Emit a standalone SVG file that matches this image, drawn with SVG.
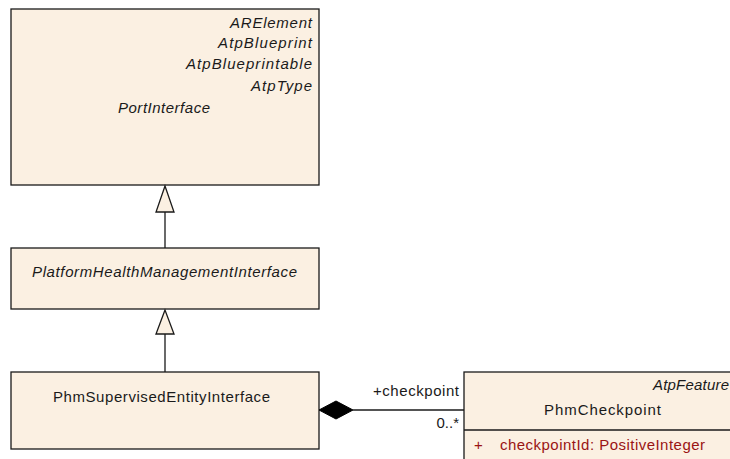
<svg xmlns="http://www.w3.org/2000/svg" width="730" height="459" viewBox="0 0 730 459">
<style>
.box{fill:#FBF0E2;stroke:#1a1a1a;stroke-width:1.3}
.t{font-family:"Liberation Sans",Arial,sans-serif;font-size:15px;fill:#1a1a1a}
.i{font-style:italic}
.r{text-anchor:end}
.attr{fill:#9A1414}
.ln{stroke:#1a1a1a;stroke-width:1.3;fill:none}
.gen{fill:#FBF0E2;stroke:#1a1a1a;stroke-width:1.3}
</style>
<rect width="730" height="459" fill="#ffffff"/>
<g id="PortInterface">
<rect class="box" x="11" y="9" width="308" height="176"/>
<text class="t i" x="230" y="28" textLength="82" lengthAdjust="spacing">ARElement</text>
<text class="t i" x="218" y="48" textLength="94" lengthAdjust="spacing">AtpBlueprint</text>
<text class="t i" x="186" y="69" textLength="126" lengthAdjust="spacing">AtpBlueprintable</text>
<text class="t i" x="251" y="91" textLength="61" lengthAdjust="spacing">AtpType</text>
<text class="t i" x="118" y="113" textLength="92" lengthAdjust="spacing">PortInterface</text>
</g>
<g id="PlatformHealthManagementInterface">
<rect class="box" x="11" y="248" width="308" height="61"/>
<text class="t i" x="32" y="277" textLength="265" lengthAdjust="spacing">PlatformHealthManagementInterface</text>
</g>
<g id="PhmSupervisedEntityInterface">
<rect class="box" x="11" y="372" width="308" height="77"/>
<text class="t" x="53" y="402" textLength="217" lengthAdjust="spacing">PhmSupervisedEntityInterface</text>
</g>
<g id="PhmCheckpoint">
<rect class="box" x="464" y="372" width="278" height="100"/>
<line class="ln" x1="464" y1="430" x2="742" y2="430"/>
<text class="t i" x="653" y="390" textLength="76" lengthAdjust="spacing">AtpFeature</text>
<text class="t" x="544" y="415" textLength="117" lengthAdjust="spacing">PhmCheckpoint</text>
<text class="t attr" x="474" y="450">+</text>
<text class="t attr" x="500" y="450" textLength="205" lengthAdjust="spacing">checkpointId: PositiveInteger</text>
</g>
<g id="connectors">
<line class="ln" x1="165" y1="212" x2="165" y2="248"/>
<polygon class="gen" points="165,186 156,212 174,212"/>
<line class="ln" x1="165" y1="334" x2="165" y2="372"/>
<polygon class="gen" points="165,310 156,334 174,334"/>
<line class="ln" x1="353" y1="410" x2="464" y2="410"/>
<polygon points="319,410 336,401 353,410 336,419" fill="#000" stroke="#000" stroke-width="1"/>
<text class="t r" x="459" y="396" textLength="86" lengthAdjust="spacing">+checkpoint</text>
<text class="t r" x="459" y="428">0..*</text>
</g>
</svg>
